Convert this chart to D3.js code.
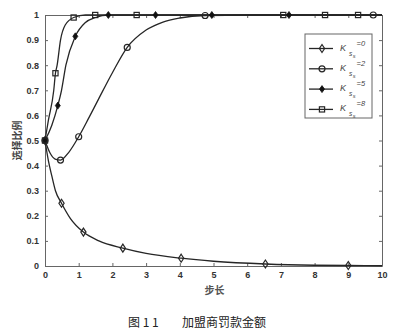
<!DOCTYPE html>
<html>
<head>
<meta charset="utf-8">
<script src="https://cdn.jsdelivr.net/npm/d3@7"></script>
<style>
  body { margin: 0; background: #fff; }
  svg { display: block; }
</style>
</head>
<body>
<svg id="chart"></svg>
<script>
// curves (step, share)
const k0Line = [[0,0.5],[0.1,0.42],[0.2,0.36],[0.31,0.3],[0.49,0.25],[0.75,0.19],[1.14,0.135],[1.6,0.1],[2.31,0.071],[3,0.05],[4.04,0.031],[5,0.019],[6.54,0.008],[8,0.003],[9,0.002],[10,0.001]];
const k2Line = [[0,0.5],[0.15,0.45],[0.3,0.426],[0.46,0.422],[0.7,0.452],[1.0,0.515],[1.3,0.59],[1.6,0.668],[2.0,0.77],[2.44,0.871],[3,0.94],[3.5,0.972],[4,0.988],[4.75,0.998],[6,1],[10,1]];
const k5Line = [[0,0.5],[0.2,0.56],[0.38,0.639],[0.49,0.7],[0.62,0.8],[0.9,0.915],[1.2,0.97],[1.5,0.99],[1.88,1],[10,1]];
const k8Line = [[0,0.5],[0.1,0.58],[0.26,0.7],[0.31,0.768],[0.36,0.8],[0.46,0.9],[0.6,0.96],[0.85,0.99],[1.2,1],[10,1]];

// marker positions
const k0Marks = [[0,0.5],[0.49,0.25],[1.14,0.135],[2.31,0.071],[4.04,0.031],[6.54,0.008],[9,0.002]];
const k2Marks = [[0,0.5],[0.46,0.422],[1.0,0.515],[2.44,0.871],[4.75,0.998],[9.74,1]];
const k5Marks = [[0,0.5],[0.38,0.639],[0.9,0.915],[1.88,1],[3.28,1],[4.95,1],[7.24,1]];
const k8Marks = [[0,0.5],[0.31,0.768],[0.85,0.99],[1.49,1],[2.72,1],[7.07,1],[8.31,1],[9.29,1]];

const legendValues = ["0", "2", "5", "8"];
const xTicks = [0,1,2,3,4,5,6,7,8,9,10];
const yTicks = [0,0.1,0.2,0.3,0.4,0.5,0.6,0.7,0.8,0.9,1];

const width = 403;
const height = 335;
const margin = {top: 15, right: 21, bottom: 69, left: 45};

const svg = d3.select("#chart")
    .attr("width", width)
    .attr("height", height);

const x = d3.scaleLinear().domain([0, 10]).range([margin.left, width - margin.right]);
const y = d3.scaleLinear().domain([0, 1]).range([height - margin.bottom, margin.top]);

const axisColor = "#666";
const inkColor = "#262626";

// axes, ticks inward on all four sides
const tickFont = (g) => g.selectAll("text")
    .style("font", "bold 9px 'Liberation Sans', Arial, sans-serif")
    .attr("fill", "#333");

svg.append("g")
    .attr("transform", `translate(0,${y(0)})`)
    .call(d3.axisBottom(x).tickValues(xTicks).tickFormat(d3.format("d")).tickSizeInner(-3).tickSizeOuter(0).tickPadding(6))
    .call(tickFont)
    .call(g => g.selectAll("line, path").attr("stroke", axisColor));

svg.append("g")
    .attr("transform", `translate(0,${y(1)})`)
    .call(d3.axisTop(x).tickValues(xTicks).tickFormat("").tickSizeInner(-3).tickSizeOuter(0))
    .call(g => g.selectAll("line, path").attr("stroke", axisColor));

svg.append("g")
    .attr("transform", `translate(${x(0)},0)`)
    .call(d3.axisLeft(y).tickValues(yTicks).tickFormat(d => d === 0 || d === 1 ? d : d3.format(".1f")(d)).tickSizeInner(-3).tickSizeOuter(0).tickPadding(6))
    .call(tickFont)
    .call(g => g.selectAll("line, path").attr("stroke", axisColor));

svg.append("g")
    .attr("transform", `translate(${x(10)},0)`)
    .call(d3.axisRight(y).tickValues(yTicks).tickFormat("").tickSizeInner(-3).tickSizeOuter(0))
    .call(g => g.selectAll("line, path").attr("stroke", axisColor));

// lines
const line = d3.line()
    .x(d => x(d[0]))
    .y(d => y(d[1]))
    .curve(d3.curveMonotoneX);

const series = [
    {line: k0Line, marks: k0Marks, shape: "diamond"},
    {line: k2Line, marks: k2Marks, shape: "circle"},
    {line: k5Line, marks: k5Marks, shape: "dot"},
    {line: k8Line, marks: k8Marks, shape: "square"}
];

const drawMarker = (g, shape, cx, cy) => {
    if (shape === "diamond") {
        g.append("path")
            .attr("d", `M${cx},${cy - 4}L${cx + 2.6},${cy}L${cx},${cy + 4}L${cx - 2.6},${cy}Z`)
            .attr("fill", "none").attr("stroke", inkColor).attr("stroke-width", 1.2);
    } else if (shape === "circle") {
        g.append("circle").attr("cx", cx).attr("cy", cy).attr("r", 3)
            .attr("fill", "none").attr("stroke", inkColor).attr("stroke-width", 1.2);
    } else if (shape === "dot") {
        g.append("path")
            .attr("d", `M${cx},${cy - 3.5}L${cx + 2.5},${cy}L${cx},${cy + 3.5}L${cx - 2.5},${cy}Z`)
            .attr("fill", "#111").attr("stroke", "#111").attr("stroke-width", 0.8);
    } else {
        g.append("rect").attr("x", cx - 2.6).attr("y", cy - 2.6).attr("width", 5.2).attr("height", 5.2)
            .attr("fill", "none").attr("stroke", inkColor).attr("stroke-width", 1.2);
    }
};

const plot = svg.append("g");

series.forEach(s => {
    plot.append("path")
        .datum(s.line)
        .attr("d", line)
        .attr("fill", "none")
        .attr("stroke", inkColor)
        .attr("stroke-width", 1.3);
});

series.forEach(s => {
    const g = plot.append("g");
    s.marks.forEach(d => drawMarker(g, s.shape, x(d[0]), y(d[1])));
});

// legend
const legend = svg.append("g").attr("class", "legend");
legend.append("rect")
    .attr("x", 305).attr("y", 34).attr("width", 67).attr("height", 84)
    .attr("fill", "#fff").attr("stroke", axisColor).attr("stroke-width", 1);

series.forEach((s, i) => {
    const ly = 48.5 + i * 20.3;
    legend.append("line")
        .attr("x1", 309).attr("x2", 333).attr("y1", ly).attr("y2", ly)
        .attr("stroke", inkColor).attr("stroke-width", 1.3);
    drawMarker(legend, s.shape, 322, ly);
    const t = legend.append("text")
        .attr("x", 340).attr("y", ly + 2)
        .style("font", "italic 9px 'Liberation Sans', Arial, sans-serif")
        .attr("fill", "#444");
    t.append("tspan").text("K");
    t.append("tspan").attr("dx", 3).attr("dy", 5).style("font-size", "6.5px").text("s");
    t.append("tspan").attr("dx", 0.5).attr("dy", 2).style("font-size", "5.5px").text("s");
    t.append("tspan").attr("dx", 1).attr("dy", -12).style("font-size", "7.5px").text("=" + legendValues[i]);
});

// axis titles
svg.append("text")
    .attr("transform", `translate(21,${y(0.5)}) rotate(-90)`)
    .attr("text-anchor", "middle")
    .style("font", "bold 10px 'Noto Sans CJK SC', sans-serif")
    .attr("fill", "#444")
    .text("选择比例");

svg.append("text")
    .attr("x", x(5) + 1).attr("y", 294)
    .attr("text-anchor", "middle")
    .style("font", "bold 10px 'Noto Sans CJK SC', sans-serif")
    .attr("fill", "#555")
    .text("步长");

// caption
svg.append("text")
    .attr("x", 128).attr("y", 327)
    .style("font", "12px 'Noto Sans CJK SC', sans-serif")
    .attr("fill", "#222")
    .text("图 1 1");

svg.append("text")
    .attr("x", 182).attr("y", 327)
    .style("font", "12px 'Noto Sans CJK SC', sans-serif")
    .attr("fill", "#222")
    .text("加盟商罚款金额");
</script>
</body>
</html>
